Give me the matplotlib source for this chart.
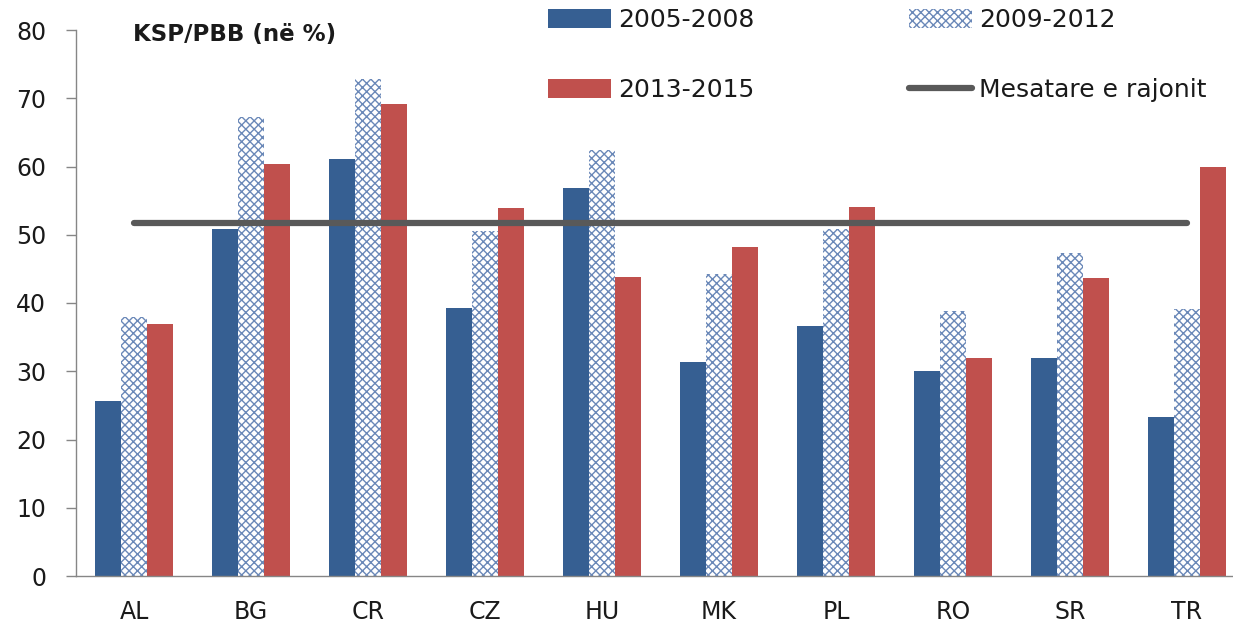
import matplotlib
matplotlib.use("Agg")
import matplotlib.pyplot as plt
import numpy as np
from matplotlib.patches import Patch
from matplotlib.lines import Line2D

categories = ["AL", "BG", "CR", "CZ", "HU", "MK", "PL", "RO", "SR", "TR"]
s2005_2008 = [25.6, 50.8, 61.1, 39.3, 56.8, 31.4, 36.7, 30.1, 32.0, 23.3]
s2009_2012 = [38.0, 67.2, 72.8, 50.6, 62.4, 44.3, 50.8, 38.9, 47.3, 39.1]
s2013_2015 = [36.9, 60.3, 69.2, 53.9, 43.8, 48.2, 54.1, 32.0, 43.6, 60.0]
regional_mean = [51.7] * len(categories)
yticks = [0, 10, 20, 30, 40, 50, 60, 70, 80]

plt.rcParams['font.family'] = ['DejaVu Sans']
plt.rcParams['hatch.linewidth'] = 1.0

W, H = 1233, 627
fig = plt.figure(figsize=(W / 100, H / 100), dpi=100)
ax = fig.add_axes([75.5 / W, 51 / H, 1170 / W, 546 / H])

blue = "#365F92"
red = "#C0504D"
gray = "#595959"
hatch_col = "#6A88B8"
x = np.arange(len(categories))
w = 0.225

ax.bar(x - w, s2005_2008, w, color=blue, linewidth=0, label="2005-2008")
ax.bar(x, s2009_2012, w, facecolor="white", edgecolor=hatch_col, hatch="xxxx",
       linewidth=0, label="2009-2012")
ax.bar(x + w, s2013_2015, w, color=red, linewidth=0, label="2013-2015")
ax.plot(x, regional_mean, color=gray, linewidth=4.5, solid_capstyle="round",
        label="Mesatare e rajonit")

ax.set_xlim(-0.5, len(categories) - 0.5)
ax.set_ylim(0, 80)
ax.set_yticks(yticks)
ax.set_xticks(x)
ax.set_xticklabels(categories)

for side in ["top", "right"]:
    ax.spines[side].set_visible(False)
for side in ["left", "bottom"]:
    ax.spines[side].set_color("#868686")
    ax.spines[side].set_linewidth(1.0)

ax.tick_params(axis="y", direction="out", length=7, width=1, color="#868686",
               labelsize=17, pad=14, labelcolor="#1a1a1a")
ax.tick_params(axis="x", length=0, labelsize=17, pad=17, labelcolor="#1a1a1a")

fig.text(133 / W, 1 - 34 / H, "KSP/PBB (në %)", fontsize=16.5, fontweight="bold",
         va="center", ha="left", color="#1a1a1a")

handles = [
    Patch(facecolor=blue, edgecolor="none"),
    Patch(facecolor=red, edgecolor="none"),
    Patch(facecolor="white", edgecolor=hatch_col, hatch="xxxx", linewidth=0),
    Line2D([0], [0], color=gray, linewidth=4.5, solid_capstyle="round"),
]
labels = ["2005-2008", "2013-2015", "2009-2012", "Mesatare e rajonit"]
leg = fig.legend(handles, labels, ncol=2, loc="upper left",
                 bbox_to_anchor=(548 / W, 1 - 8 / H), frameon=False,
                 fontsize=18, handlelength=2.5, handleheight=0.8,
                 handletextpad=0.3, columnspacing=6.2, labelspacing=1.85,
                 borderpad=0, borderaxespad=0)
for t in leg.get_texts():
    t.set_color("#1a1a1a")

fig.savefig("out.png", dpi=100)
